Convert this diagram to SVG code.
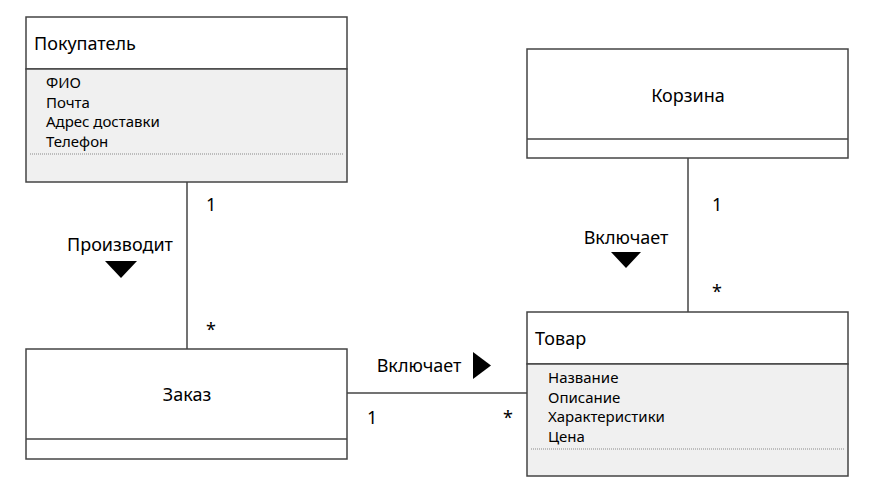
<svg xmlns="http://www.w3.org/2000/svg" width="873" height="500" viewBox="0 0 873 500">
<style>
.box{fill:#fff;stroke:#444;stroke-width:1.5}
.attr{fill:#f0f0f0;stroke:#444;stroke-width:1.5}
.div{stroke:#444;stroke-width:1.5}
.dot{stroke:#888;stroke-width:1;stroke-dasharray:1 1}
.t{font-family:"Noto Sans","Open Sans",sans-serif;font-size:18px;fill:#000}
.a{font-family:"Noto Sans","Open Sans",sans-serif;font-size:15px;fill:#000}
.c{stroke:#444;stroke-width:1.5;fill:none}
.m{font-family:"Noto Sans","Open Sans",sans-serif;font-size:18px;fill:#000}
</style>
<rect width="873" height="500" fill="#fff"/>
<g id="connectors">
<line class="c" x1="187" y1="182" x2="187" y2="349"/>
<line class="c" x1="688" y1="158" x2="688" y2="312"/>
<line class="c" x1="347" y1="393" x2="527" y2="393"/>
<text class="m" x="206" y="211">1</text>
<text class="m" x="206" y="336">*</text>
<text class="m" x="120" y="251" text-anchor="middle">Производит</text>
<polygon points="105,261 137,261 121,278" fill="#000"/>
<text class="m" x="712" y="211">1</text>
<text class="m" x="712" y="298">*</text>
<text class="m" x="626" y="244" text-anchor="middle">Включает</text>
<polygon points="611,252 641,252 626,268" fill="#000"/>
<text class="m" x="419" y="372" text-anchor="middle">Включает</text>
<polygon points="473,352 491,365.5 473,379" fill="#000"/>
<text class="m" x="367" y="424">1</text>
<text class="m" x="503" y="424">*</text>
</g>
<g id="pokupatel">
<rect class="box" x="26" y="17" width="321" height="52"/>
<rect class="attr" x="26" y="69" width="321" height="113"/>
<line class="dot" x1="30" y1="154" x2="343" y2="154"/>
<text class="t" x="34" y="50">Покупатель</text>
<text class="a" x="46" y="88">ФИО</text>
<text class="a" x="46" y="107.5">Почта</text>
<text class="a" x="46" y="127">Адрес доставки</text>
<text class="a" x="46" y="146.5">Телефон</text>
</g>
<g id="korzina">
<rect class="box" x="527" y="49" width="321" height="109"/>
<line class="div" x1="527" y1="139" x2="848" y2="139"/>
<text class="t" x="688" y="102" text-anchor="middle">Корзина</text>
</g>
<g id="zakaz">
<rect class="box" x="26" y="349" width="321" height="110"/>
<line class="div" x1="26" y1="439" x2="347" y2="439"/>
<text class="t" x="187" y="401" text-anchor="middle">Заказ</text>
</g>
<g id="tovar">
<rect class="box" x="527" y="312" width="321" height="52"/>
<rect class="attr" x="527" y="364" width="321" height="112"/>
<line class="dot" x1="531" y1="449" x2="844" y2="449"/>
<text class="t" x="535" y="345">Товар</text>
<text class="a" x="548" y="383">Название</text>
<text class="a" x="548" y="402.5">Описание</text>
<text class="a" x="548" y="422">Характеристики</text>
<text class="a" x="548" y="441.5">Цена</text>
</g>
</svg>
